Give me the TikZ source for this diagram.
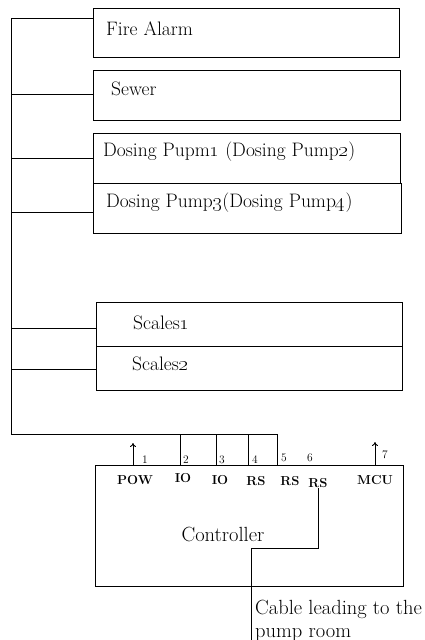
\documentclass[tikz,border=0pt]{standalone}
\usetikzlibrary{positioning,arrows.meta}
\tikzset{
  unit/.style={draw, line width=0.9pt, anchor=north west, inner sep=0pt},
  lbl/.style={anchor=west, inner sep=0pt, font=\fontsize{19.5}{23}\selectfont},
  pin/.style={inner sep=0pt, font=\fontsize{13}{15}\selectfont\bfseries},
  num/.style={inner sep=0pt, font=\fontsize{11.5}{13}\selectfont},
  wire/.style={line width=0.9pt},
}
\begin{document}
\begin{tikzpicture}[x=1pt,y=-1pt]
	\useasboundingbox (0,0) rectangle (425,640);
	
	% Geraete oben
	\node[unit, minimum width=306pt, minimum height=49pt] (fire) at (93,8) {};
	\node[lbl] (firetxt) at (106,29) {Fire Alarm};
	\node[unit, minimum width=307pt, minimum height=50pt] (sewer) at (93,70) {};
	\node[lbl] (sewertxt) at (111,89) {Sewer};
	\node[unit, minimum width=307pt, minimum height=50pt] (dos1) at (93,133) {};
	\node[lbl] (dos1txt) at (103,152) {Dosing Pupm\oldstylenums{1} (Dosing Pump\oldstylenums{2})};
	\node[unit, minimum width=308pt, minimum height=50pt] (dos2) at (93,183) {};
	\node[lbl] (dos2txt) at (106,203) {Dosing Pump\oldstylenums{3}(Dosing Pump\oldstylenums{4})};
	\node[unit, minimum width=306pt, minimum height=44pt] (sc1) at (96,302) {};
	\node[lbl] (sc1txt) at (133,323) {Scales\oldstylenums{1}};
	\node[unit, minimum width=306pt, minimum height=44pt] (sc2) at (96,346) {};
	\node[lbl] (sc2txt) at (132,364) {Scales\oldstylenums{2}};
	
	% Sammelleitung links
	\draw[wire] (11,18) -- (11,434) -- (277,434);
	\foreach \n/\y in {fire/18, sewer/94, dos1/158, dos2/212, sc1/328, sc2/369} {
		\coordinate (b\n) at (11,\y);
		\draw[wire] (b\n) -- (b\n -| \n.west);
	}
	
	% Steuerung
	\node[unit, minimum width=308pt, minimum height=121pt] (ctrl) at (95,465) {};
	\node[lbl, anchor=center, font=\fontsize{20.5}{24}\selectfont] (ctrltxt) at (223,534) {Controller};
	
	% Abgaenge zur Steuerung
	\foreach \x [count=\i] in {180,216,248,277} {
		\coordinate (d\i) at (\x,434);
		\draw[wire] (d\i) -- (d\i |- ctrl.north);
	}
	\coordinate (pow) at (133,465);
	\coordinate (mcu) at (375,465);
	\draw[wire,-{To[length=4pt,width=6pt]}] (pow) -- ++(0,-22);
	\draw[wire,-{To[length=4pt,width=6pt]}] (mcu) -- ++(0,-23);
	
	% Anschluesse
	\node[pin] (p1) at (135,480) {POW};
	\node[pin] (p2) at (183,478) {IO};
	\node[pin] (p3) at (220,480) {IO};
	\node[pin] (p4) at (256,481) {RS};
	\node[pin] (p5) at (290,481) {RS};
	\node[pin] (p6) at (318,483) {RS};
	\node[pin] (p7) at (375,480) {MCU};
	\foreach \t/\x/\y in {1/145/460, 2/186/460, 3/222/460, 4/255/460, 5/284/458, 6/310/458, 7/385/455} {
		\node[num] (n\t) at (\x,\y) {\t};
	}
	
	% Kabel zum Pumpenraum
	\coordinate (cabend) at (251,640);
	\draw[wire] (p6.south) -- ++(0,61) -| (cabend);
	\node[lbl, anchor=north west, align=left, font=\fontsize{20.5}{23}\selectfont] (cabtxt) at (255,600) {Cable leading to the\\pump room};
\end{tikzpicture}
\end{document}
